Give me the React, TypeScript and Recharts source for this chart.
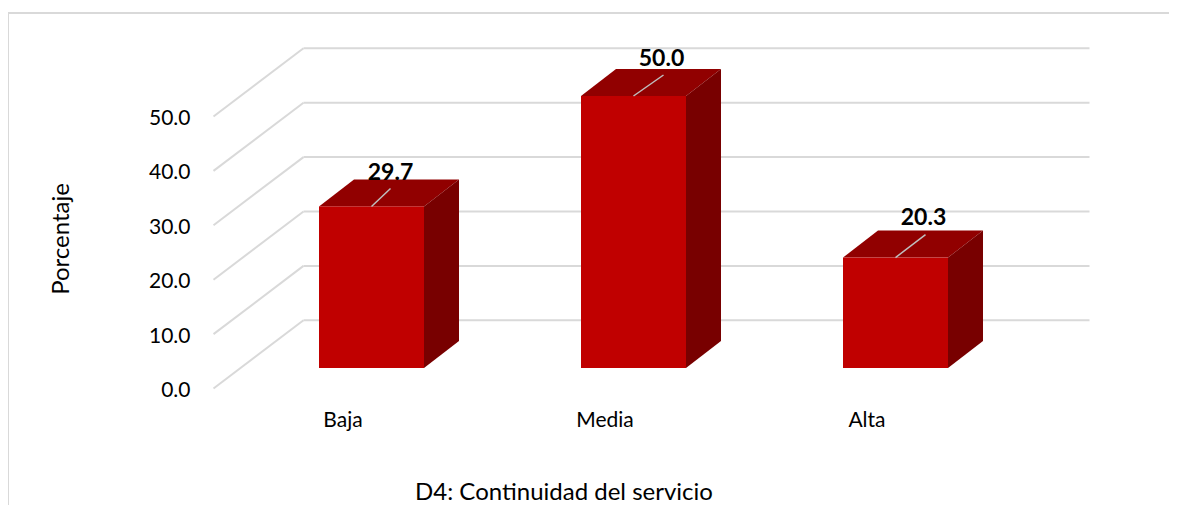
import React from "react";
import { BarChart, Bar, XAxis, YAxis, CartesianGrid, LabelList } from "recharts";

const categories = ["Baja", "Media", "Alta"];
const values = [29.7, 50.0, 20.3];
const yTicks = [0, 10, 20, 30, 40, 50];

const data = categories.map((name, i) => ({ name, value: values[i] }));

const FONT = "Lato, 'Open Sans', sans-serif";
const DX = 35;
const DY = 27;
const labelDx = [19, 28, 28];
const labelDy = [-26, -30, -33];
const leaderDx = [19, 30, 30];
const leaderDy = [-18, -21, -23];

const Bar3D = (props: any) => {
  const { x, y, width, height } = props;
  const r = x + width;
  const b = y + height;
  return (
    <g>
      <polygon points={`${x},${y} ${x + DX},${y - DY} ${r + DX},${y - DY} ${r},${y}`} fill="#910000" />
      <polygon points={`${r},${y} ${r + DX},${y - DY} ${r + DX},${b - DY} ${r},${b}`} fill="#780000" />
      <rect x={x} y={y} width={width} height={height} fill="#C00000" />
    </g>
  );
};

const GridLine = (props: any) => {
  const { x1, y1, x2 } = props;
  const frontX = x1 - 26.5;
  const frontY = y1 + 20.5;
  const backX = x1 + 63.5;
  const backY = y1 - 47.7;
  return (
    <g stroke="#D9D9D9" strokeWidth={2} fill="none">
      <line x1={frontX} y1={frontY} x2={backX} y2={backY} />
      <line x1={backX} y1={backY} x2={x2 + 63.5} y2={backY} />
    </g>
  );
};

const YTick = (props: any) => {
  const { x, y, payload } = props;
  return (
    <text x={x - 41.5} y={y + 29} textAnchor="end" fontFamily={FONT} fontSize={21} fill="#000">
      {Number(payload.value).toFixed(1)}
    </text>
  );
};

const XTick = (props: any) => {
  const { x, y, payload } = props;
  return (
    <text x={x - 28} y={y + 51} textAnchor="middle" fontFamily={FONT} fontSize={21} fill="#000">
      {payload.value}
    </text>
  );
};

const DataLabel = (props: any) => {
  const { x, y, width, value, index } = props;
  const cx = x + width / 2;
  return (
    <g>
      <line x1={cx} y1={y} x2={cx + leaderDx[index]} y2={y + leaderDy[index]} stroke="#BFBFBF" strokeWidth={1.5} />
      <text x={cx + labelDx[index]} y={y + labelDy[index]} textAnchor="middle" fontFamily={FONT} fontWeight={700} fontSize={23} fill="#000">
        {Number(value).toFixed(1)}
      </text>
    </g>
  );
};

export default function App() {
  return (
    <div style={{ position: "relative", width: 1169, height: 497 }}>
      <div style={{ position: "absolute", left: -1, top: 4, width: 1170, height: 491, borderTop: "2px solid #D9D9D9", borderLeft: "2px solid #D9D9D9" }} />
      <div style={{ position: "absolute", left: 0, top: 0 }}>
        <BarChart
          width={1169}
          height={497}
          data={data}
          margin={{ top: 88, right: 151, bottom: 77, left: 172 }}
          barSize={105}
        >
          <CartesianGrid vertical={false} horizontal={(p: any) => <GridLine key={p.key ?? p.index} {...p} />} />
          <XAxis dataKey="name" axisLine={false} tickLine={false} tick={<XTick />} interval={0} height={60} />
          <YAxis
            domain={[0, 50]}
            ticks={yTicks}
            axisLine={false}
            tickLine={false}
            tick={<YTick />}
            width={60}
          />
          <Bar dataKey="value" shape={<Bar3D />} isAnimationActive={false}>
            <LabelList dataKey="value" content={<DataLabel />} />
          </Bar>
        </BarChart>
      </div>
      <div style={{ position: "absolute", left: 51, top: 231, transform: "translate(-50%,-50%) rotate(-90deg)", fontFamily: FONT, fontSize: 24, whiteSpace: "nowrap", color: "#000" }}>
        Porcentaje
      </div>
      <div style={{ position: "absolute", left: 556, top: 482, transform: "translate(-50%,-50%)", fontFamily: FONT, fontSize: 24, whiteSpace: "nowrap", color: "#000" }}>
        D4: Continuidad del servicio
      </div>
    </div>
  );
}
